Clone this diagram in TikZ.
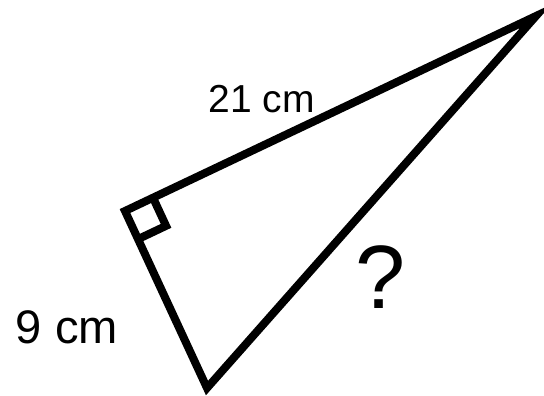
\documentclass[tikz,border=0pt]{standalone}
\usepackage{fontspec}
\setmainfont{Liberation Sans}
\usetikzlibrary{positioning,calc}
\tikzset{
  edge/.style={line width=0.08cm, black},
  sidelabel/.style={anchor=base, inner sep=0pt, font=\fontsize{13.4}{16}\selectfont},
  hyplabel/.style={anchor=base, inner sep=0pt, font=\fontsize{11.1}{13}\selectfont},
  asklabel/.style={anchor=base, inner sep=0pt, font=\fontsize{25.6}{30}\selectfont}
}

\begin{document}
\begin{tikzpicture}
      \useasboundingbox (0,0) rectangle (5.44,3.95);
      \coordinate (rt) at (1.25,1.84);
      \coordinate (top) at (5.36,3.79);
      \coordinate (bot) at (2.07,0.07);
      \draw[edge] (rt) -- (top) -- (bot) -- cycle;
      % right angle mark
      \draw[edge] ($(rt)!0.31cm!(top)$) -- ($(rt)!0.31cm!(top) + (rt)!0.31cm!(bot) - (rt)$) -- ($(rt)!0.31cm!(bot)$);
      \node[hyplabel] (hyp) at (2.615,2.83) {21 cm};
      \node[sidelabel] (leg) at (0.67,0.52) {9 cm};
      \node[asklabel] (ask) at (3.81,0.87) {?};
    \end{tikzpicture}
\end{document}
